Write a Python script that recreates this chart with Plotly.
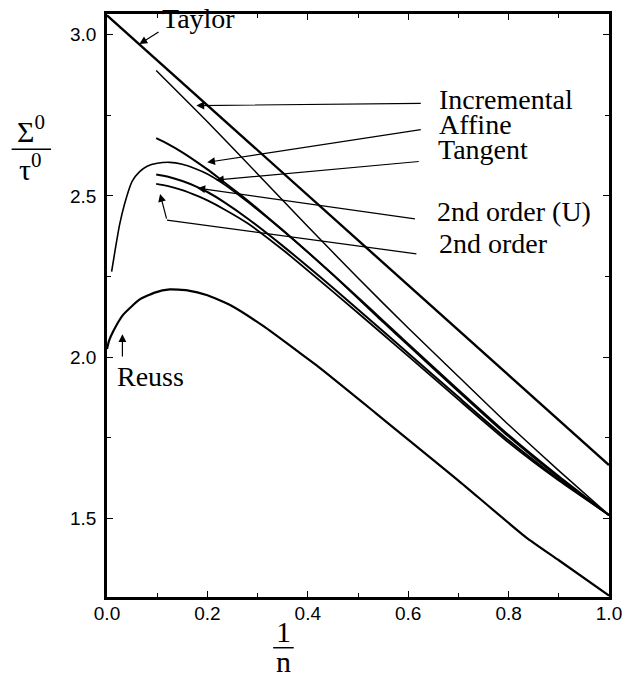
import plotly.graph_objects as go

# Abscissa 1/n and normalised flow stress Sigma0/tau0 for each estimate
taylor_x = [0.0, 1.0]
taylor_y = [3.06, 1.665]

incremental_x = [0.098, 0.2, 0.3, 0.4, 0.5, 0.6, 0.7, 0.8, 0.9, 1.0]
incremental_y = [2.889, 2.73, 2.568, 2.405, 2.245, 2.09, 1.94, 1.79, 1.648, 1.51]

affine_x = [0.098, 0.12, 0.15, 0.18, 0.2, 0.227, 0.26, 0.3, 0.35, 0.4, 0.45,
            0.5, 0.55, 0.6, 0.7, 0.8, 0.9, 1.0]
affine_y = [2.679, 2.662, 2.635, 2.604, 2.582, 2.55, 2.51, 2.46, 2.394, 2.326,
            2.256, 2.185, 2.113, 2.041, 1.898, 1.758, 1.63, 1.51]

tangent_x = [0.0092, 0.016, 0.025, 0.035, 0.05, 0.065, 0.08, 0.1, 0.125, 0.15,
             0.175, 0.2, 0.234, 0.28, 0.35, 0.45, 0.55, 0.6, 0.7, 0.8, 0.9, 1.0]
tangent_y = [2.265, 2.33, 2.41, 2.475, 2.545, 2.575, 2.592, 2.601, 2.604, 2.598,
             2.585, 2.568, 2.535, 2.481, 2.392, 2.255, 2.108, 2.036, 1.893,
             1.753, 1.626, 1.51]

second_u_x = [0.098, 0.12, 0.15, 0.179, 0.2, 0.234, 0.28, 0.35, 0.45, 0.55,
              0.6, 0.7, 0.8, 0.9, 1.0]
second_u_y = [2.566, 2.56, 2.546, 2.528, 2.512, 2.48, 2.43, 2.345, 2.215, 2.08,
              2.012, 1.876, 1.742, 1.621, 1.51]

second_x = [0.098, 0.12, 0.15, 0.18, 0.2, 0.234, 0.28, 0.35, 0.45, 0.55, 0.6,
            0.7, 0.8, 0.9, 1.0]
second_y = [2.537, 2.531, 2.518, 2.5, 2.486, 2.458, 2.415, 2.333, 2.203, 2.07,
            2.003, 1.868, 1.735, 1.617, 1.51]

reuss_x = [0.0, 0.004, 0.0124, 0.032, 0.0646, 0.095, 0.125, 0.16, 0.2, 0.247,
           0.3125, 0.378, 0.417, 0.534, 0.6, 0.7, 0.834, 0.9, 1.0]
reuss_y = [2.025, 2.05, 2.08, 2.131, 2.178, 2.2, 2.21, 2.207, 2.192, 2.16,
           2.095, 2.02, 1.975, 1.828, 1.744, 1.617, 1.442, 1.37, 1.26]

x_ticks = [0.0, 0.2, 0.4, 0.6, 0.8, 1.0]
x_tick_text = ["0.0", "0.2", "0.4", "0.6", "0.8", "1.0"]
y_ticks = [1.5, 2.0, 2.5, 3.0]
y_tick_text = ["1.5", "2.0", "2.5", "3.0"]

# label text, label anchor (x, y), arrow tail (x, y), arrow tip (x, y)
labels = ["Incremental", "Affine", "Tangent", "2nd order (U)"]
label_pos = [(0.6575, 2.798), (0.6575, 2.721), (0.6555, 2.644), (0.6535, 2.452)]
arrow_tail = [(0.628, 2.787), (0.628, 2.706), (0.624, 2.607), (0.6164, 2.428)]
arrow_tip = [(0.178, 2.780), (0.1996, 2.604), (0.217, 2.549), (0.18, 2.524)]

SERIF = "Liberation Serif, Times New Roman, serif"
SANS = "Liberation Sans, Arial, sans-serif"

fig = go.Figure()

curves = [
    ("Taylor", taylor_x, taylor_y, 2.4),
    ("Incremental", incremental_x, incremental_y, 1.5),
    ("Affine", affine_x, affine_y, 2.0),
    ("Tangent", tangent_x, tangent_y, 1.6),
    ("2nd order (U)", second_u_x, second_u_y, 2.0),
    ("2nd order", second_x, second_y, 1.8),
    ("Reuss", reuss_x, reuss_y, 2.2),
]
for name, xs, ys, w in curves:
    fig.add_trace(go.Scatter(x=xs, y=ys, mode="lines", name=name,
                             line=dict(color="black", width=w, shape="spline",
                                       smoothing=0.5),
                             hoverinfo="skip", showlegend=False))

annotations = []
text_font = dict(family=SERIF, size=28, color="black")
arrow_style = dict(xref="x", yref="y", axref="x", ayref="y", text="",
                   showarrow=True, arrowhead=2, arrowsize=1.3, arrowwidth=1.2,
                   arrowcolor="black", standoff=0, startstandoff=0)

for lab, (tx, ty), (ax, ay), (hx, hy) in zip(labels, label_pos, arrow_tail, arrow_tip):
    annotations.append(dict(x=tx, y=ty, xref="x", yref="y", text=lab,
                            showarrow=False, xanchor="left", yanchor="middle",
                            font=text_font))
    annotations.append(dict(x=hx, y=hy, ax=ax, ay=ay, **arrow_style))

# "2nd order" label with a bent leader
annotations.append(dict(x=0.6575, y=2.351, xref="x", yref="y", text="2nd order",
                        showarrow=False, xanchor="left", yanchor="middle",
                        font=text_font))
elbow = (0.1194, 2.425)
annotations.append(dict(x=0.1057, y=2.506, ax=elbow[0], ay=elbow[1], **arrow_style))
shapes = [dict(type="line", xref="x", yref="y", x0=0.6164, y0=2.32,
               x1=elbow[0], y1=elbow[1], line=dict(color="black", width=1.2))]

# Taylor and Reuss labels
annotations.append(dict(x=0.182, y=3.05, xref="x", yref="y", text="Taylor",
                        showarrow=False, xanchor="center", yanchor="middle",
                        font=text_font))
annotations.append(dict(x=0.0646, y=2.971, ax=0.1057, ay=3.011, **arrow_style))
annotations.append(dict(x=0.0157, y=1.94, xref="x", yref="y", text="Reuss",
                        showarrow=False, xanchor="left", yanchor="middle",
                        font=text_font))
annotations.append(dict(x=0.0307, y=2.071, ax=0.0307, ay=1.997, **arrow_style))

# Axis titles written as stacked fractions
title_font = dict(family=SERIF, size=30, color="black")
annotations += [
    dict(x=-0.152, y=0.803, xref="paper", yref="paper", text="Σ<sup>0</sup>",
         showarrow=False, xanchor="center", yanchor="middle", font=title_font),
    dict(x=-0.152, y=0.738, xref="paper", yref="paper", text="τ<sup>0</sup>",
         showarrow=False, xanchor="center", yanchor="middle", font=title_font),
    dict(x=0.352, y=-0.059, xref="paper", yref="paper", text="1",
         showarrow=False, xanchor="center", yanchor="middle", font=title_font),
    dict(x=0.352, y=-0.111, xref="paper", yref="paper", text="n",
         showarrow=False, xanchor="center", yanchor="middle", font=title_font),
]
shapes += [
    dict(type="line", xref="paper", yref="paper", x0=-0.19, x1=-0.1115,
         y0=0.768, y1=0.768, line=dict(color="black", width=1.5)),
    dict(type="line", xref="paper", yref="paper", x0=0.331, x1=0.372,
         y0=-0.087, y1=-0.087, line=dict(color="black", width=1.5)),
]

axis_common = dict(showline=True, linecolor="black", linewidth=2.5,
                   mirror="ticks", ticks="inside", tickcolor="black",
                   tickwidth=1.2, ticklen=6, showgrid=False, zeroline=False,
                   tickfont=dict(family=SANS, size=19, color="black"))

fig.update_xaxes(range=[0.0, 1.0], tickvals=x_ticks, ticktext=x_tick_text,
                 minor=dict(dtick=0.1, tick0=0, ticks="inside", ticklen=4,
                            tickcolor="black", tickwidth=1),
                 ticklabelstandoff=-3, **axis_common)
fig.update_yaxes(range=[1.256, 3.064], tickvals=y_ticks, ticktext=y_tick_text,
                 minor=dict(dtick=0.25, tick0=0, ticks="inside", ticklen=4,
                            tickcolor="black", tickwidth=1),
                 ticklabelstandoff=4, **axis_common)

fig.update_layout(width=633, height=681,
                  margin=dict(l=107, r=15, t=11, b=84),
                  paper_bgcolor="white", plot_bgcolor="white",
                  annotations=annotations, shapes=shapes, showlegend=False)

fig.write_html("out.html")
